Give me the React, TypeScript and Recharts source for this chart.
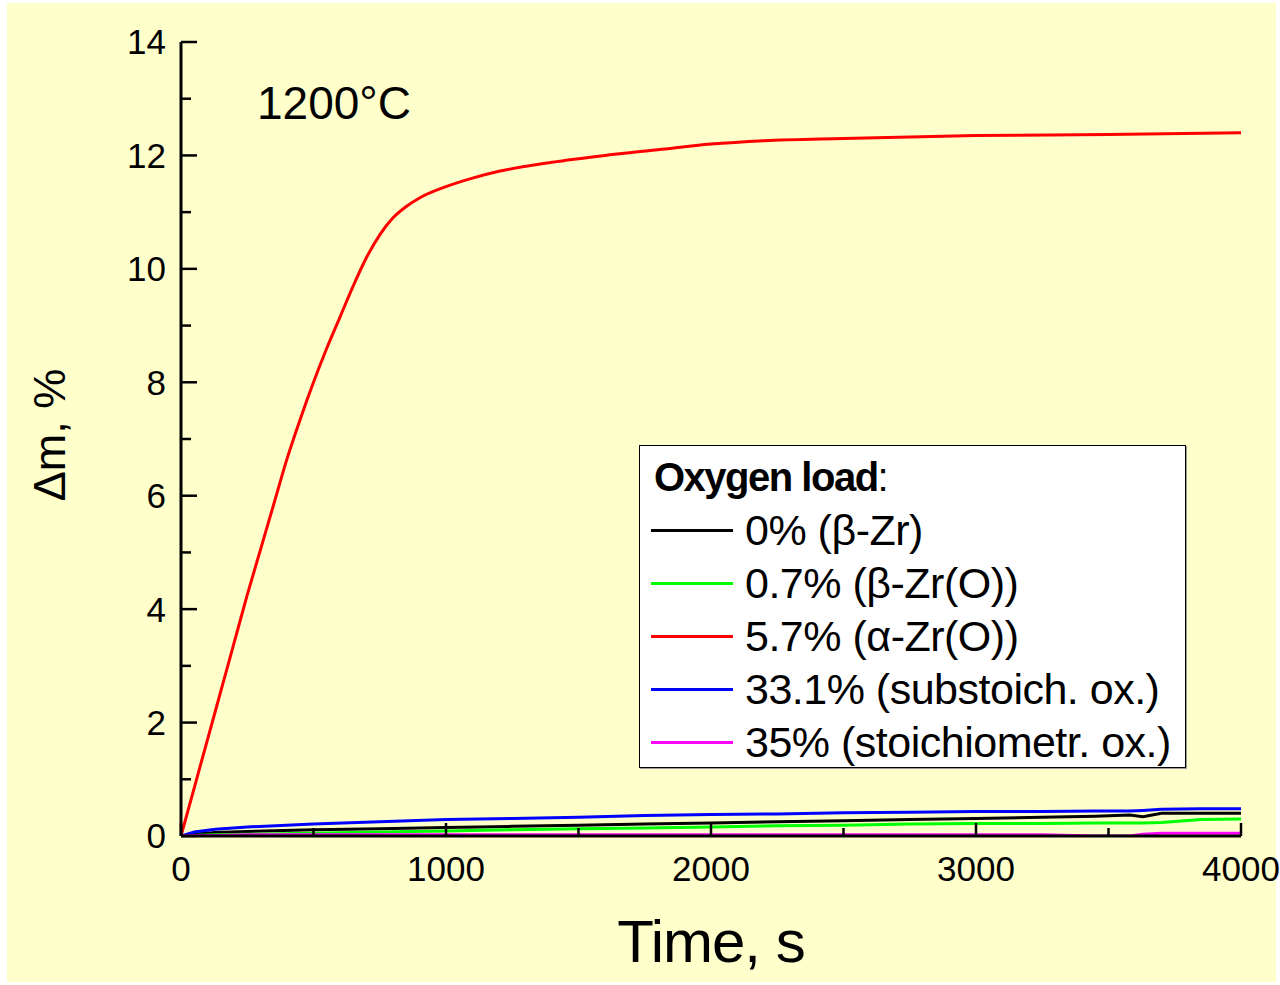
import { LineChart, Line, XAxis, YAxis, Legend } from 'recharts'

// time axis (s) and mass gain (%)
const redTime = [0, 50, 100, 150, 200, 250, 300, 350, 400, 450, 500, 550, 600, 650, 700, 750, 800, 850, 900, 1000, 1100, 1200, 1400, 1600, 1800, 2000, 2200, 2500, 3000, 3500, 4000]
const redLoad = [0, 0.85, 1.7, 2.55, 3.4, 4.25, 5.05, 5.85, 6.65, 7.35, 8.0, 8.6, 9.15, 9.7, 10.2, 10.6, 10.9, 11.1, 11.25, 11.45, 11.6, 11.72, 11.88, 12.0, 12.1, 12.2, 12.26, 12.3, 12.35, 12.37, 12.4]

const lowTime = [0, 50, 130, 250, 500, 750, 1000, 1250, 1500, 1750, 2000, 2250, 2500, 2750, 3000, 3250, 3450, 3580, 3630, 3700, 3850, 4000]
const blackLoad = [0, 0.03, 0.06, 0.08, 0.11, 0.13, 0.15, 0.17, 0.19, 0.21, 0.23, 0.25, 0.27, 0.29, 0.31, 0.33, 0.35, 0.37, 0.34, 0.4, 0.4, 0.4]
const greenLoad = [0, 0.01, 0.02, 0.03, 0.05, 0.07, 0.09, 0.11, 0.13, 0.14, 0.16, 0.18, 0.19, 0.21, 0.22, 0.22, 0.23, 0.23, 0.23, 0.24, 0.29, 0.3]
const blueLoad = [0, 0.07, 0.12, 0.16, 0.21, 0.25, 0.29, 0.31, 0.33, 0.36, 0.38, 0.39, 0.41, 0.42, 0.43, 0.43, 0.44, 0.44, 0.45, 0.47, 0.48, 0.48]
const magentaLoad = [0, 0.01, 0.01, 0.02, 0.02, 0.02, 0.02, 0.02, 0.02, 0.02, 0.02, 0.02, 0.02, 0.02, 0.02, 0.02, 0, 0, 0.03, 0.05, 0.05, 0.05]

const seriesNames = ['0% (β-Zr)', '0.7% (β-Zr(O))', '5.7% (α-Zr(O))', '33.1% (substoich. ox.)', '35% (stoichiometr. ox.)']

const xTicks = [0, 500, 1000, 1500, 2000, 2500, 3000, 3500, 4000]
const xMajor = [0, 1000, 2000, 3000, 4000]
const yTicks = [0, 1, 2, 3, 4, 5, 6, 7, 8, 9, 10, 11, 12, 13, 14]
const yMajor = [0, 2, 4, 6, 8, 10, 12, 14]

const FONT = '"Liberation Sans", Arial, sans-serif'
const X_GAP = 20
const Y_GAP = 15

const toPoints = (times: number[], values: number[]) => times.map((t, i) => ({ t, v: values[i] }))

const series = [
  { name: seriesNames[0], color: '#000000', data: toPoints(lowTime, blackLoad), curve: 'linear' },
  { name: seriesNames[1], color: '#00FF00', data: toPoints(lowTime, greenLoad), curve: 'linear' },
  { name: seriesNames[2], color: '#FF0000', data: toPoints(redTime, redLoad), curve: 'monotone' },
  { name: seriesNames[3], color: '#0000FF', data: toPoints(lowTime, blueLoad), curve: 'linear' },
  { name: seriesNames[4], color: '#FF00FF', data: toPoints(lowTime, magentaLoad), curve: 'linear' },
]

function XTick({ x, y, payload }: any) {
  const major = xMajor.includes(payload.value)
  const y0 = y - X_GAP
  return (
    <g>
      <line x1={x} x2={x} y1={y0} y2={y0 - (major ? 13 : 8)} stroke="#000" strokeWidth={2.5} />
      {major && (
        <text x={x} y={y} dy="0.71em" textAnchor="middle" fontSize={35} fill="#000">
          {payload.value}
        </text>
      )}
    </g>
  )
}

function YTick({ x, y, payload }: any) {
  const major = yMajor.includes(payload.value)
  const x0 = x + Y_GAP
  return (
    <g>
      <line x1={x0} x2={x0 + (major ? 16 : 10)} y1={y} y2={y} stroke="#000" strokeWidth={2.5} />
      {major && (
        <text x={x} y={y} dy="0.355em" textAnchor="end" fontSize={35} fill="#000">
          {payload.value}
        </text>
      )}
    </g>
  )
}

function XTitle({ viewBox }: any) {
  const cx = viewBox.x + viewBox.width / 2
  return (
    <text x={cx} y={viewBox.y + 126} textAnchor="middle" fontSize={60} letterSpacing={-1} fill="#000">
      Time, s
    </text>
  )
}

function YTitle({ viewBox }: any) {
  const cx = viewBox.x + 65
  const cy = viewBox.y + viewBox.height / 2 - 4
  return (
    <text x={cx} y={cy} transform={`rotate(-90, ${cx}, ${cy})`} textAnchor="middle" fontSize={45} fill="#000">
      Δm, %
    </text>
  )
}

function OxygenLegend({ payload }: any) {
  // keep the plotting order, not the legend's default sort
  const items = [...(payload || [])].sort(
    (a: any, b: any) => seriesNames.indexOf(a.value) - seriesNames.indexOf(b.value),
  )
  return (
    <div
      style={{
        boxSizing: 'border-box',
        width: 547,
        height: 323,
        background: '#fff',
        border: '1.5px solid #000',
        boxShadow: '1px 1px 0 #999',
        paddingTop: 4,
        fontFamily: FONT,
        color: '#000',
      }}
    >
      <div style={{ height: 54, lineHeight: '54px', paddingLeft: 14, fontSize: 40, letterSpacing: -1.5 }}>
        <span style={{ fontWeight: 'bold' }}>Oxygen load</span>:
      </div>
      {items.map((entry: any) => (
        <div key={entry.value} style={{ display: 'flex', alignItems: 'center', height: 53 }}>
          <div style={{ marginLeft: 11, width: 82, height: 3, background: entry.color }} />
          <span style={{ marginLeft: 12, fontSize: 43, letterSpacing: -0.5, whiteSpace: 'nowrap' }}>{entry.value}</span>
        </div>
      ))}
    </div>
  )
}

export default function App() {
  return (
    <div style={{ position: 'absolute', left: 0, top: 0, width: 1280, height: 985, background: '#fff', fontFamily: FONT }}>
      <div style={{ position: 'absolute', left: 7, top: 3, width: 1269, height: 979, background: '#FFFFCC' }} />
      <div style={{ position: 'absolute', left: 0, top: 0 }}>
        <LineChart width={1280} height={985} margin={{ top: 42, right: 39, left: 0, bottom: 69 }} style={{ fontFamily: FONT }}>
          <XAxis
            type="number"
            dataKey="t"
            domain={[0, 4000]}
            ticks={xTicks}
            interval={0}
            height={80}
            allowDataOverflow
            axisLine={{ stroke: '#000', strokeWidth: 3 }}
            tickLine={false}
            tickSize={0}
            tickMargin={X_GAP}
            tick={(p: any) => <XTick {...p} />}
            label={(p: any) => <XTitle {...p} />}
          />
          <XAxis
            xAxisId="top"
            orientation="top"
            type="number"
            dataKey="t"
            domain={[0, 4000]}
            height={0}
            tick={false}
            tickLine={false}
            axisLine={{ stroke: '#000', strokeWidth: 3 }}
          />
          <YAxis
            type="number"
            domain={[0, 14]}
            ticks={yTicks}
            interval={0}
            width={181}
            allowDataOverflow
            axisLine={{ stroke: '#000', strokeWidth: 3 }}
            tickLine={false}
            tickSize={0}
            tickMargin={Y_GAP}
            tick={(p: any) => <YTick {...p} />}
            label={(p: any) => <YTitle {...p} />}
          />
          <YAxis
            yAxisId="right"
            orientation="right"
            type="number"
            domain={[0, 14]}
            width={0}
            tick={false}
            tickLine={false}
            axisLine={{ stroke: '#000', strokeWidth: 3 }}
          />
          <Legend
            layout="horizontal"
            verticalAlign="middle"
            align="center"
            wrapperStyle={{ left: 639, top: 445, width: 547, height: 323 }}
            content={(p: any) => <OxygenLegend {...p} />}
          />
          {series.map((s) => (
            <Line
              key={s.name}
              data={s.data}
              dataKey="v"
              name={s.name}
              type={s.curve as any}
              stroke={s.color}
              strokeWidth={3}
              dot={false}
              activeDot={false}
              isAnimationActive={false}
            />
          ))}
        </LineChart>
      </div>
      <svg width={1280} height={985} style={{ position: 'absolute', left: 0, top: 0, pointerEvents: 'none' }}>
        <text x={257} y={119} fontSize={46} fill="#000" fontFamily={FONT}>
          1200°C
        </text>
      </svg>
    </div>
  )
}
